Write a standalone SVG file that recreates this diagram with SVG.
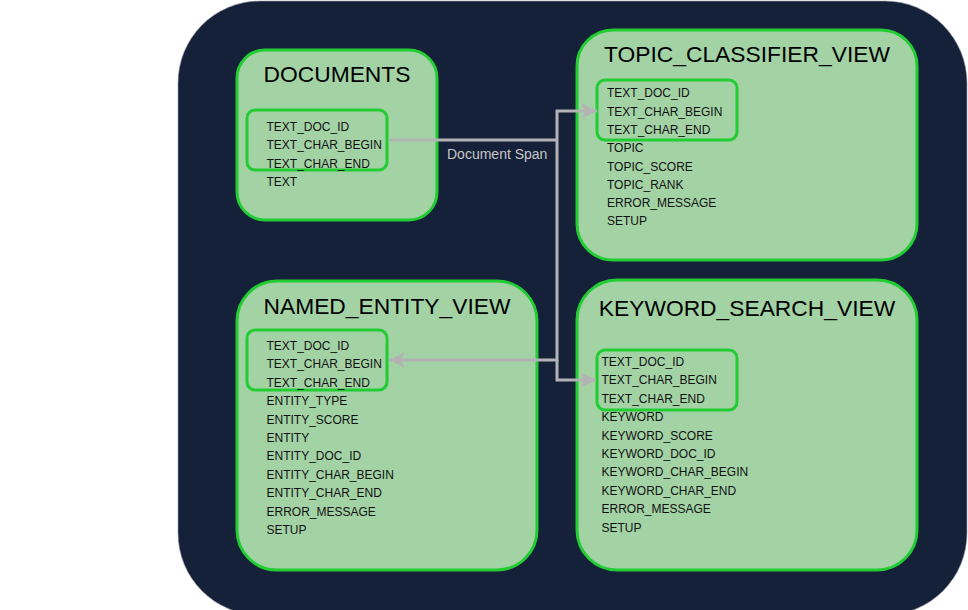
<svg xmlns="http://www.w3.org/2000/svg" width="968" height="610" viewBox="0 0 968 610">
<defs>
<style>
.bg{fill:#152039;stroke:#9aa0aa;stroke-width:0.6}
.node{fill:#a3d3a5;stroke:#22cc33;stroke-width:3}
.key{fill:none;stroke:#22cc33;stroke-width:3}
.title{font-family:"Liberation Sans",Arial,sans-serif;font-size:22.8px;fill:#000;text-anchor:middle}
.f{font-family:"Liberation Sans",Arial,sans-serif;font-size:12px;fill:#111}
.edge{fill:none;stroke:#b3b3b3;stroke-width:3}
.lbl{font-family:"Liberation Sans",Arial,sans-serif;font-size:14px;fill:#c8c8c8}
</style>
<marker id="arr" viewBox="0 0 10 10" refX="10" refY="5" markerWidth="5.7" markerHeight="5.3" markerUnits="strokeWidth" orient="auto">
<path d="M0,0 L10,5 L0,10 L2.5,5 z" fill="#b3b3b3"/>
</marker>
</defs>
<rect width="968" height="610" fill="#ffffff"/>
<rect class="bg" x="178" y="1" width="789" height="614" rx="82" ry="82"/>

<g id="documents">
<rect class="node" x="237" y="50" width="200" height="170" rx="28"/>
<text class="title" x="337" y="82">DOCUMENTS</text>
<rect class="key" x="247" y="110" width="140" height="60" rx="8"/>
<text class="f" x="266.5" y="131">TEXT_DOC_ID</text>
<text class="f" x="266.5" y="149.3">TEXT_CHAR_BEGIN</text>
<text class="f" x="266.5" y="167.6">TEXT_CHAR_END</text>
<text class="f" x="266.5" y="185.9">TEXT</text>
</g>

<g id="topic_classifier_view">
<rect class="node" x="577" y="30" width="340" height="230" rx="36"/>
<text class="title" x="747" y="62">TOPIC_CLASSIFIER_VIEW</text>
<rect class="key" x="597" y="80" width="140" height="60" rx="8"/>
<text class="f" x="607" y="97.3">TEXT_DOC_ID</text>
<text class="f" x="607" y="115.6">TEXT_CHAR_BEGIN</text>
<text class="f" x="607" y="133.9">TEXT_CHAR_END</text>
<text class="f" x="607" y="152.2">TOPIC</text>
<text class="f" x="607" y="170.5">TOPIC_SCORE</text>
<text class="f" x="607" y="188.8">TOPIC_RANK</text>
<text class="f" x="607" y="207.1">ERROR_MESSAGE</text>
<text class="f" x="607" y="225.4">SETUP</text>
</g>

<g id="named_entity_view">
<rect class="node" x="237" y="281" width="300" height="289" rx="40"/>
<text class="title" x="387" y="314">NAMED_ENTITY_VIEW</text>
<rect class="key" x="247" y="330" width="140" height="60" rx="8"/>
<text class="f" x="266.5" y="350">TEXT_DOC_ID</text>
<text class="f" x="266.5" y="368.4">TEXT_CHAR_BEGIN</text>
<text class="f" x="266.5" y="386.8">TEXT_CHAR_END</text>
<text class="f" x="266.5" y="405.2">ENTITY_TYPE</text>
<text class="f" x="266.5" y="423.6">ENTITY_SCORE</text>
<text class="f" x="266.5" y="442">ENTITY</text>
<text class="f" x="266.5" y="460.4">ENTITY_DOC_ID</text>
<text class="f" x="266.5" y="478.8">ENTITY_CHAR_BEGIN</text>
<text class="f" x="266.5" y="497.2">ENTITY_CHAR_END</text>
<text class="f" x="266.5" y="515.6">ERROR_MESSAGE</text>
<text class="f" x="266.5" y="534">SETUP</text>
</g>

<g id="keyword_search_view">
<rect class="node" x="577" y="280" width="340" height="290" rx="40"/>
<text class="title" x="747" y="316">KEYWORD_SEARCH_VIEW</text>
<rect class="key" x="597" y="350" width="140" height="60" rx="8"/>
<text class="f" x="601.5" y="366">TEXT_DOC_ID</text>
<text class="f" x="601.5" y="384.4">TEXT_CHAR_BEGIN</text>
<text class="f" x="601.5" y="402.8">TEXT_CHAR_END</text>
<text class="f" x="601.5" y="421.2">KEYWORD</text>
<text class="f" x="601.5" y="439.6">KEYWORD_SCORE</text>
<text class="f" x="601.5" y="458">KEYWORD_DOC_ID</text>
<text class="f" x="601.5" y="476.4">KEYWORD_CHAR_BEGIN</text>
<text class="f" x="601.5" y="494.8">KEYWORD_CHAR_END</text>
<text class="f" x="601.5" y="513.2">ERROR_MESSAGE</text>
<text class="f" x="601.5" y="531.6">SETUP</text>
</g>

<g id="connectors">
<path class="edge" d="M389,140 L557,140"/>
<path class="edge" d="M557,140 L557,111 L597,111" marker-end="url(#arr)"/>
<path class="edge" d="M557,140 L557,360 L389,360" marker-end="url(#arr)"/>
<path class="edge" d="M557,360 L557,380 L596,380" marker-end="url(#arr)"/>
<text class="lbl" x="447" y="158.7">Document Span</text>
</g>
</svg>
